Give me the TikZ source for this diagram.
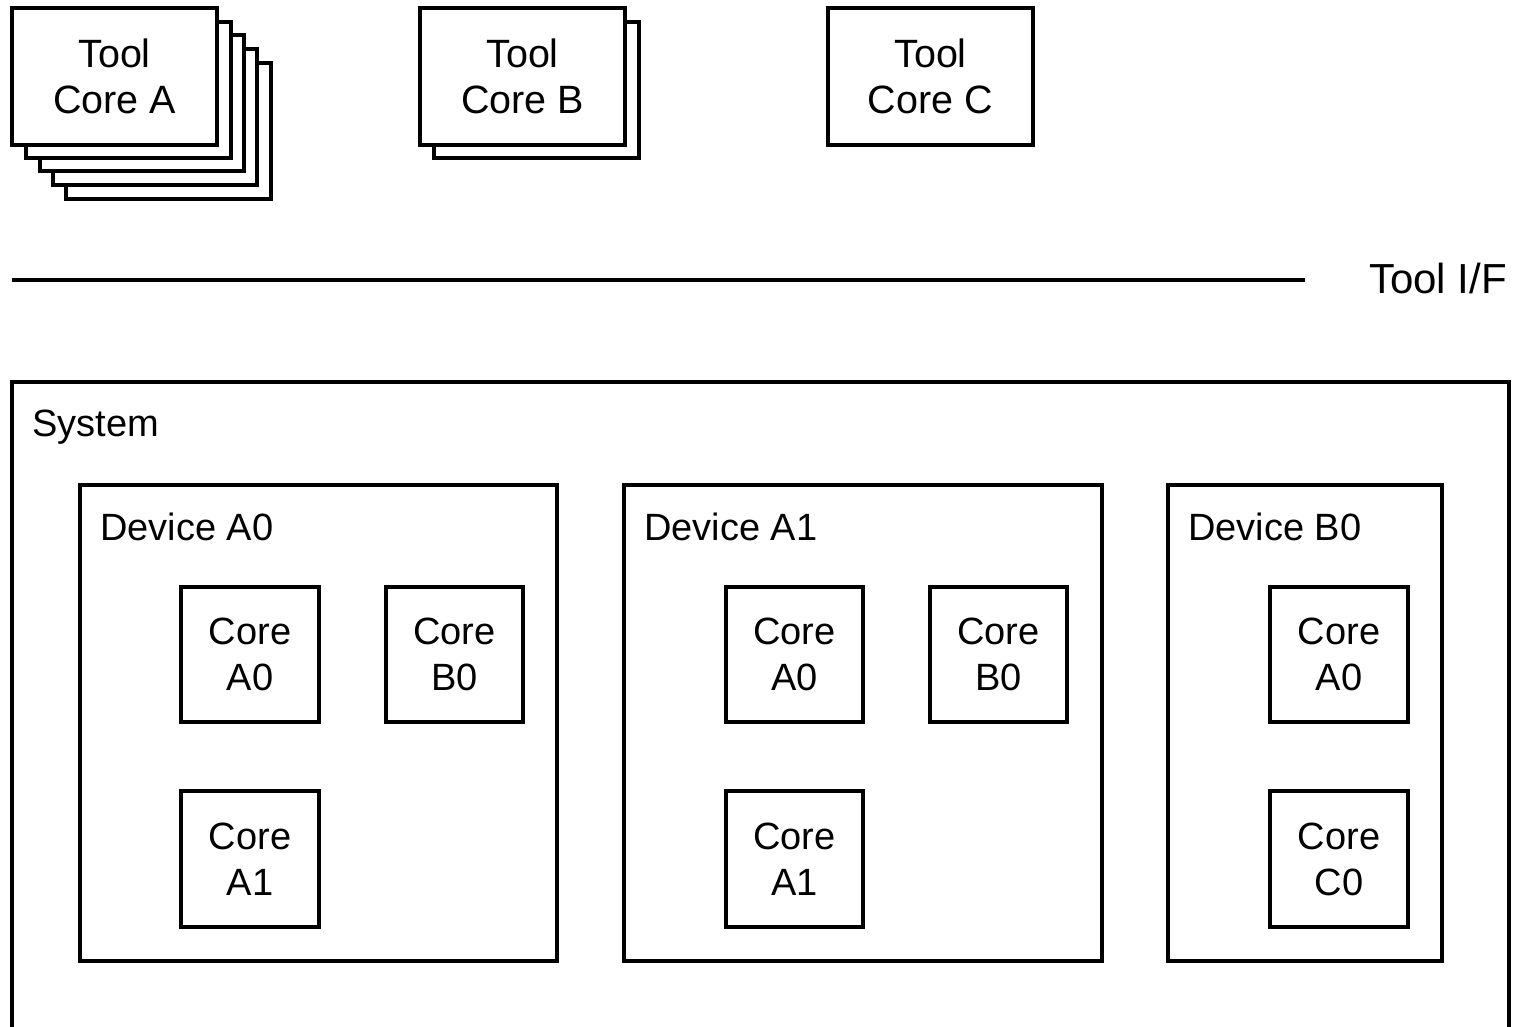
\documentclass[tikz,border=0pt]{standalone}
\usepackage{fontspec}
\setmainfont{Liberation Sans}
\newcommand\rbox[7][]{\node[box,#1,minimum width={#5-#3},minimum height={#6-#4}] (#2) at ({(#3+#5)/2},{(#4+#6)/2}) {#7};}
\begin{document}
\begin{tikzpicture}[x=1pt,y=-1pt,
  every node/.style={font=\fontsize{38}{46}\selectfont, inner sep=0pt, align=center},
  box/.style={draw, line width=3.2pt, fill=white},
  tool/.style={font=\fontsize{39.5}{46}\selectfont, text depth=0pt, yshift=0pt},
  lbl/.style={anchor=west}]
\useasboundingbox (0,0) rectangle (1514,1026);
\clip (0,0) rectangle (1514,1026);
% Tool Core A stack
\rbox{tA5}{66}{63}{271}{199}{}
\rbox{tA4}{53}{49}{257}{185}{}
\rbox{tA3}{40}{35}{244}{171}{}
\rbox{tA2}{26}{22}{231}{158}{}
\rbox[tool]{tA}{12}{8}{217}{145}{Tool\\Core A}
% Tool Core B stack
\rbox{tB2}{434}{22}{639}{158}{}
\rbox[tool]{tB}{420}{8}{625}{145}{Tool\\Core B}
% Tool Core C
\rbox[tool]{tC}{828}{8}{1033}{145}{Tool\\Core C}
% Tool I/F
\coordinate (ifs) at (12,280);
\coordinate (ife) at (1305,280);
\node[anchor=east, font=\fontsize{42}{48}\selectfont] (tif) at (1507,278) {Tool I/F};
\draw[line width=4.2pt] (ifs) -- (ife);
% System
\rbox{sys}{12}{382}{1509}{1100}{}
\node[lbl] (syslbl) at (32,427) {System};
% Devices
\rbox{dA0}{80}{485}{557}{961}{}
\node[lbl] (dA0l) at (100,527) {Device A0};
\rbox{dA1}{624}{485}{1102}{961}{}
\node[lbl] (dA1l) at (644,527) {Device A1};
\rbox{dB0}{1168}{485}{1442}{961}{}
\node[lbl] (dB0l) at (1188,527) {Device B0};
% Cores in Device A0
\rbox{a0cA0}{181}{587}{319}{722}{Core\\A0}
\rbox{a0cB0}{386}{587}{523}{722}{Core\\B0}
\rbox{a0cA1}{181}{791}{319}{927}{Core\\A1}
% Cores in Device A1
\rbox{a1cA0}{726}{587}{863}{722}{Core\\A0}
\rbox{a1cB0}{930}{587}{1067}{722}{Core\\B0}
\rbox{a1cA1}{726}{791}{863}{927}{Core\\A1}
% Cores in Device B0
\rbox{b0cA0}{1270}{587}{1408}{722}{Core\\A0}
\rbox{b0cC0}{1270}{791}{1408}{927}{Core\\C0}
\end{tikzpicture}
\end{document}
